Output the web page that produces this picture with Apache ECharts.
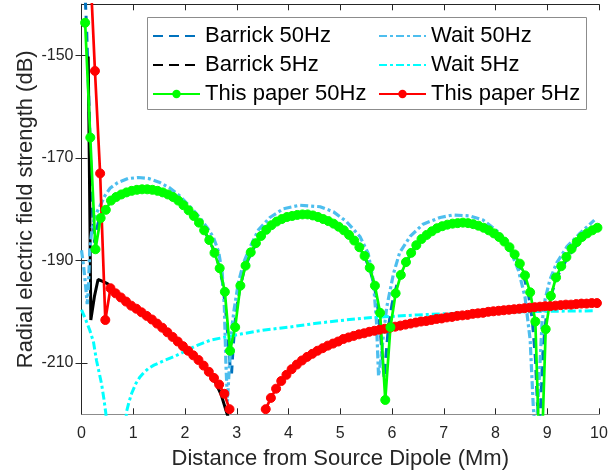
<!DOCTYPE html>
<html>
<head>
<meta charset="utf-8">
<script src="https://cdn.jsdelivr.net/npm/echarts@6/dist/echarts.min.js"></script>
<style>
html,body{margin:0;padding:0;background:#fff;}
#chart{width:614px;height:471px;}
</style>
</head>
<body>
<div id="chart"></div>
<script>
// ---------- data ----------
const xTicks = [0,1,2,3,4,5,6,7,8,9,10];
const yTickValues = [-210,-190,-170,-150];

// This paper 50Hz (green, markers)
const thisPaper50X = [
0.07,0.17,0.27,0.37,0.47,0.57,0.67,0.77,0.87,0.97,
1.07,1.17,1.27,1.37,1.47,1.57,1.67,1.77,1.87,1.97,
2.07,2.17,2.27,2.37,2.47,2.57,2.67,2.77,2.87,2.97,
3.07,3.17,3.27,3.37,3.47,3.57,3.67,3.77,3.87,3.97,
4.07,4.17,4.27,4.37,4.47,4.57,4.67,4.77,4.87,4.97,
5.07,5.17,5.27,5.37,5.47,5.57,5.67,5.77,5.87,5.97,
6.07,6.17,6.27,6.37,6.47,6.57,6.67,6.77,6.87,6.97,
7.07,7.17,7.27,7.37,7.47,7.57,7.67,7.77,7.87,7.97,
8.07,8.17,8.27,8.37,8.47,8.57,8.67,8.77,8.87,8.97,
9.07,9.17,9.27,9.37,9.47,9.57,9.67,9.77,9.87,9.97];
const thisPaper50Y = [
-143.6,-166.0,-187.8,-181.7,-180.1,-178.3,-177.6,-177.1,-176.7,-176.4,
-176.2,-176.1,-176.1,-176.2,-176.4,-176.7,-177.1,-177.6,-178.3,-179.2,
-180.2,-181.3,-182.6,-184.1,-186.0,-188.5,-191.5,-196.1,-207.6,-203.0,
-194.9,-191.0,-188.4,-186.6,-185.2,-184.0,-183.1,-182.4,-181.9,-181.5,
-181.3,-181.1,-181.0,-181.0,-181.2,-181.5,-181.9,-182.3,-182.8,-183.4,
-184.1,-185.0,-186.1,-187.4,-189.1,-191.4,-194.9,-200.2,-217.2,-203.0,
-196.4,-192.8,-190.3,-188.5,-187.0,-185.8,-185.0,-184.3,-183.7,-183.3,
-183.0,-182.8,-182.7,-182.6,-182.7,-182.9,-183.2,-183.6,-184.1,-184.7,
-185.4,-186.3,-187.4,-188.8,-190.6,-192.9,-196.2,-201.9,-235.0,-203.4,
-196.9,-193.3,-191.1,-189.3,-187.7,-186.4,-185.4,-184.7,-184.1,-183.6];

// This paper 5Hz (red, markers)
const thisPaper5X = [
0.16,0.26,0.36,0.46,0.56,0.66,0.76,0.86,0.96,
1.06,1.16,1.26,1.36,1.46,1.56,1.66,1.76,1.86,1.96,
2.06,2.16,2.26,2.36,2.46,2.56,2.66,2.76,2.86,2.96,
3.06,3.16,3.26,3.36,3.46,3.56,3.66,3.76,3.86,3.96,
4.06,4.16,4.26,4.36,4.46,4.56,4.66,4.76,4.86,4.96,
5.06,5.16,5.26,5.36,5.46,5.56,5.66,5.76,5.86,5.96,
6.06,6.16,6.26,6.36,6.46,6.56,6.66,6.76,6.86,6.96,
7.06,7.16,7.26,7.36,7.46,7.56,7.66,7.76,7.86,7.96,
8.06,8.16,8.26,8.36,8.46,8.56,8.66,8.76,8.86,8.96,
9.06,9.16,9.26,9.36,9.46,9.56,9.66,9.76,9.86,9.96];
const thisPaper5Y = [
-131.0,-153.0,-173.0,-201.6,-195.4,-196.4,-197.2,-198.0,-198.8,
-199.4,-200.1,-200.8,-201.5,-202.3,-203.1,-204.0,-204.9,-205.8,-206.7,
-207.6,-208.5,-209.4,-210.5,-211.7,-212.9,-214.2,-216.0,-219.0,null,
null,null,null,null,null,-219.0,-216.8,-215.0,-213.5,-212.3,
-211.2,-210.3,-209.5,-208.8,-208.2,-207.6,-207.1,-206.6,-206.2,-205.8,
-205.3,-205.0,-204.7,-204.4,-204.2,-203.9,-203.7,-203.5,-203.3,-203.1,
-202.9,-202.7,-202.5,-202.3,-202.1,-201.9,-201.8,-201.6,-201.4,-201.3,
-201.1,-201.0,-200.8,-200.7,-200.6,-200.4,-200.3,-200.2,-200.0,-199.9,
-199.8,-199.7,-199.6,-199.5,-199.4,-199.3,-199.2,-199.1,-199.0,-198.9,
-198.9,-198.8,-198.7,-198.6,-198.6,-198.5,-198.4,-198.4,-198.3,-198.3];

// Barrick 50Hz (dark blue dashed)
const barrick50X = [0.06,0.10,0.13,0.17,0.21,0.25,0.29,0.35,0.45,0.60,0.80,1.00,1.20,1.40,1.60,1.80,2.00,2.20,2.40,2.55,2.65,2.72,2.78,2.83,2.87,2.90,2.93,2.98,3.05,3.15,3.30,3.50,3.70,3.90,4.10,4.30,4.50,4.70,4.90,5.10,5.30,5.45,5.57,5.66,5.73,5.78,5.82,5.85,5.88,5.93,6.00,6.10,6.25,6.45,6.65,6.90,7.20,7.50,7.80,8.05,8.25,8.42,8.55,8.64,8.71,8.77,8.81,8.84,8.88,8.92,8.98,9.07,9.20,9.40,9.60,9.80,9.95];
const barrick50Y = [-136,-145,-155,-168,-180,-186.5,-184,-181.5,-180,-178.4,-177.2,-176.6,-176.3,-176.4,-176.9,-177.9,-179.5,-181.7,-184.7,-187.8,-190.8,-194,-199,-205,-210.5,-212,-207,-200.5,-196,-191.5,-188,-185,-183.1,-182,-181.3,-181.0,-181.1,-181.8,-182.8,-184.2,-186.4,-188.8,-191.6,-195,-199.5,-204.5,-210,-213,-209,-203,-198.5,-194.5,-190.6,-187.5,-185.4,-183.8,-182.9,-182.8,-183.7,-185.2,-187.3,-190.2,-193.2,-196.8,-201.5,-209,-218,-226,-216,-207,-201,-196.8,-193,-189.3,-186.6,-184.8,-183.8];

// Barrick 5Hz (black dashed)
const barrick5X = [0.13,0.15,0.17,0.18,0.25,0.32,0.40,0.50,0.60,0.80,1.00,1.20,1.40,1.60,1.80,2.00,2.20,2.40,2.50,2.60,2.70,2.80,2.85];
const barrick5Y = [-150.2,-170,-190,-201.6,-197,-193.7,-194.0,-194.5,-195.6,-197.4,-199.0,-200.4,-201.8,-203.3,-205.0,-206.8,-208.7,-211.0,-212.4,-214.0,-216.2,-219.5,-221];

// Wait 50Hz (light blue dash-dot)
const wait50X = [0.00,0.04,0.08,0.11,0.13,0.16,0.20,0.25,0.36,0.45,0.55,0.70,0.90,1.10,1.30,1.50,1.70,1.90,2.10,2.30,2.45,2.55,2.65,2.72,2.76,2.79,2.82,2.85,2.90,2.95,3.03,3.13,3.26,3.42,3.64,3.90,4.22,4.61,4.87,5.12,5.38,5.54,5.64,5.70,5.74,5.79,5.84,5.90,6.03,6.15,6.35,6.60,6.93,7.18,7.51,7.76,8.09,8.28,8.44,8.57,8.67,8.73,8.78,8.84,8.90,8.96,9.05,9.18,9.38,9.63,9.91];
const wait50Y = [-188,-191,-195,-198.5,-196,-188,-184,-181.5,-179.3,-177.4,-175.9,-174.8,-174.0,-173.8,-174.0,-174.7,-175.8,-177.4,-179.5,-181.8,-183.9,-185.5,-188.3,-192.5,-199,-210,-217.5,-212,-203.5,-199.5,-194.4,-190.5,-187.3,-184.0,-181.6,-179.9,-179.2,-179.5,-180.5,-182.4,-185.3,-188.6,-194.0,-202.0,-212.5,-209,-204,-199,-192.5,-188.4,-185.3,-182.9,-181.6,-181.1,-181.3,-182.1,-184.7,-187.9,-191.8,-197.1,-205.5,-218.5,-225,-214,-202,-197.5,-193.8,-190.5,-187.3,-184.7,-182.1];

// Wait 5Hz (cyan dash-dot)
const wait5X = [0.00,0.08,0.16,0.23,0.29,0.35,0.39,0.43,0.47,0.50,0.84,0.87,0.92,0.97,1.05,1.13,1.20,1.30,1.40,1.60,1.80,2.00,2.20,2.50,2.80,3.10,3.50,4.00,4.50,5.00,5.50,6.00,6.50,7.00,7.50,8.00,8.50,9.00,9.50,9.91];
const wait5Y = [-199.6,-201.5,-203.6,-205.8,-209.5,-212.3,-214.2,-216.8,-219.8,-224,-224,-219.5,-217.5,-215.9,-214.0,-212.7,-211.9,-211.0,-210.4,-209.5,-208.7,-207.7,-206.7,-205.5,-204.9,-204.3,-203.6,-203.0,-202.3,-201.7,-201.2,-200.9,-200.6,-200.4,-200.2,-200.1,-200.0,-199.9,-199.85,-199.8];

// ---------- chart ----------
const FONT = 'Liberation Sans, Arial, Helvetica, sans-serif';
function pairs(xs, ys){ return xs.map((x,i)=>[x, ys[i]]); }

const chart = echarts.init(document.getElementById('chart'), null, {renderer:'canvas'});

const axisDark = '#262626';
const NOSYM = {color:'rgba(0,0,0,0)', borderColor:'rgba(0,0,0,0)', borderWidth:0, opacity:0};

const option = {
  animation:false,
  backgroundColor:'#ffffff',
  grid:{left:81.5, top:4.3, right:15, bottom:56.7, containLabel:false, outerBoundsMode:'none'},
  graphic:[{
    type:'rect', left:147, top:17, z:3,
    shape:{width:439, height:92},
    style:{fill:'#ffffff', stroke:'#8c8c8c', lineWidth:1}
  }],
  legend:[
    {
      z:5, left:152, top:25, orient:'vertical', padding:0,
      itemWidth:47, itemHeight:8, itemGap:7, selectedMode:false,
      textStyle:{fontSize:22, color:'#000', fontFamily:FONT},
      data:[
        {name:'Barrick 50Hz', lineStyle:{type:[10,6]}, itemStyle:NOSYM},
        {name:'Barrick 5Hz', lineStyle:{type:[10,6]}, itemStyle:NOSYM},
        {name:'This paper 50Hz'}
      ]
    },
    {
      z:5, left:378, top:25, orient:'vertical', padding:0,
      itemWidth:47, itemHeight:8, itemGap:7, selectedMode:false,
      textStyle:{fontSize:22, color:'#000', fontFamily:FONT},
      data:[
        {name:'Wait 50Hz', itemStyle:NOSYM},
        {name:'Wait 5Hz', itemStyle:NOSYM},
        {name:'This paper 5Hz'}
      ]
    }
  ],
  xAxis:[
    {
      type:'value', position:'bottom', min:0, max:10, interval:1,
      name:'Distance from Source Dipole (Mm)', nameLocation:'middle', nameGap:33.5,
      nameMoveOverlap:false,
      nameTextStyle:{fontSize:22, color:axisDark, fontFamily:FONT},
      axisLine:{show:true, lineStyle:{color:'#8c8c8c', width:1}},
      axisTick:{show:true, inside:true, length:6, lineStyle:{color:axisDark}},
      axisLabel:{show:true, fontSize:16, color:axisDark, fontFamily:FONT, margin:11,
        customValues: xTicks},
      splitLine:{show:false}
    },
    {
      type:'value', position:'top', min:0, max:10, interval:1,
      axisLine:{show:true, lineStyle:{color:axisDark, width:1}},
      axisTick:{show:true, inside:true, length:6, lineStyle:{color:axisDark}},
      axisLabel:{show:false},
      splitLine:{show:false}
    }
  ],
  yAxis:[
    {
      type:'value', position:'left', min:-220, max:-140, interval:10,
      name:'Radial electric field strength (dB)', nameLocation:'middle', nameGap:45,
      nameMoveOverlap:false,
      nameTextStyle:{fontSize:22, color:axisDark, fontFamily:FONT},
      axisLine:{show:true, lineStyle:{color:axisDark, width:1}},
      axisTick:{show:true, inside:true, length:6, lineStyle:{color:axisDark}, customValues:yTickValues},
      axisLabel:{show:true, fontSize:16, color:axisDark, fontFamily:FONT, margin:8, customValues:yTickValues},
      splitLine:{show:false}
    },
    {
      type:'value', position:'right', min:-220, max:-140, interval:10,
      axisLine:{show:true, lineStyle:{color:axisDark, width:1}},
      axisTick:{show:true, inside:true, length:6, lineStyle:{color:axisDark}, customValues:yTickValues},
      axisLabel:{show:false},
      splitLine:{show:false}
    }
  ],
  series:[
    {
      name:'Barrick 50Hz', type:'line', data:pairs(barrick50X, barrick50Y),
      symbol:'none', clip:true, z:2,
      lineStyle:{color:'#0072BD', width:3, type:[10,6]}, itemStyle:{color:'rgba(0,0,0,0)'}
    },
    {
      name:'Barrick 5Hz', type:'line', data:pairs(barrick5X, barrick5Y),
      symbol:'none', clip:true, z:2,
      lineStyle:{color:'#000000', width:3, type:'solid'}, itemStyle:{color:'rgba(0,0,0,0)'}
    },
    {
      name:'Wait 50Hz', type:'line', data:pairs(wait50X, wait50Y),
      symbol:'none', clip:true, z:2,
      lineStyle:{color:'#4DBEEE', width:3.2, type:[8,3,3,3]}, itemStyle:{color:'rgba(0,0,0,0)'}
    },
    {
      name:'Wait 5Hz', type:'line', data:pairs(wait5X, wait5Y),
      symbol:'none', clip:true, z:2,
      lineStyle:{color:'#00FFFF', width:3, type:[8,3,3,3]}, itemStyle:{color:'rgba(0,0,0,0)'}
    },
    {
      name:'This paper 5Hz', type:'line', data:pairs(thisPaper5X, thisPaper5Y),
      symbol:'circle', symbolSize:9, showSymbol:true, connectNulls:false, clip:true, z:3,
      lineStyle:{color:'#FF0000', width:2.7},
      itemStyle:{color:'#FF0000', borderColor:'#FF0000', borderWidth:1}
    },
    {
      name:'This paper 50Hz', type:'line', data:pairs(thisPaper50X, thisPaper50Y),
      symbol:'circle', symbolSize:9, showSymbol:true, clip:true, z:3,
      lineStyle:{color:'#00FF00', width:2.7},
      itemStyle:{color:'#00FF00', borderColor:'#00FF00', borderWidth:1}
    }
  ]
};
chart.setOption(option);
</script>
</body>
</html>
